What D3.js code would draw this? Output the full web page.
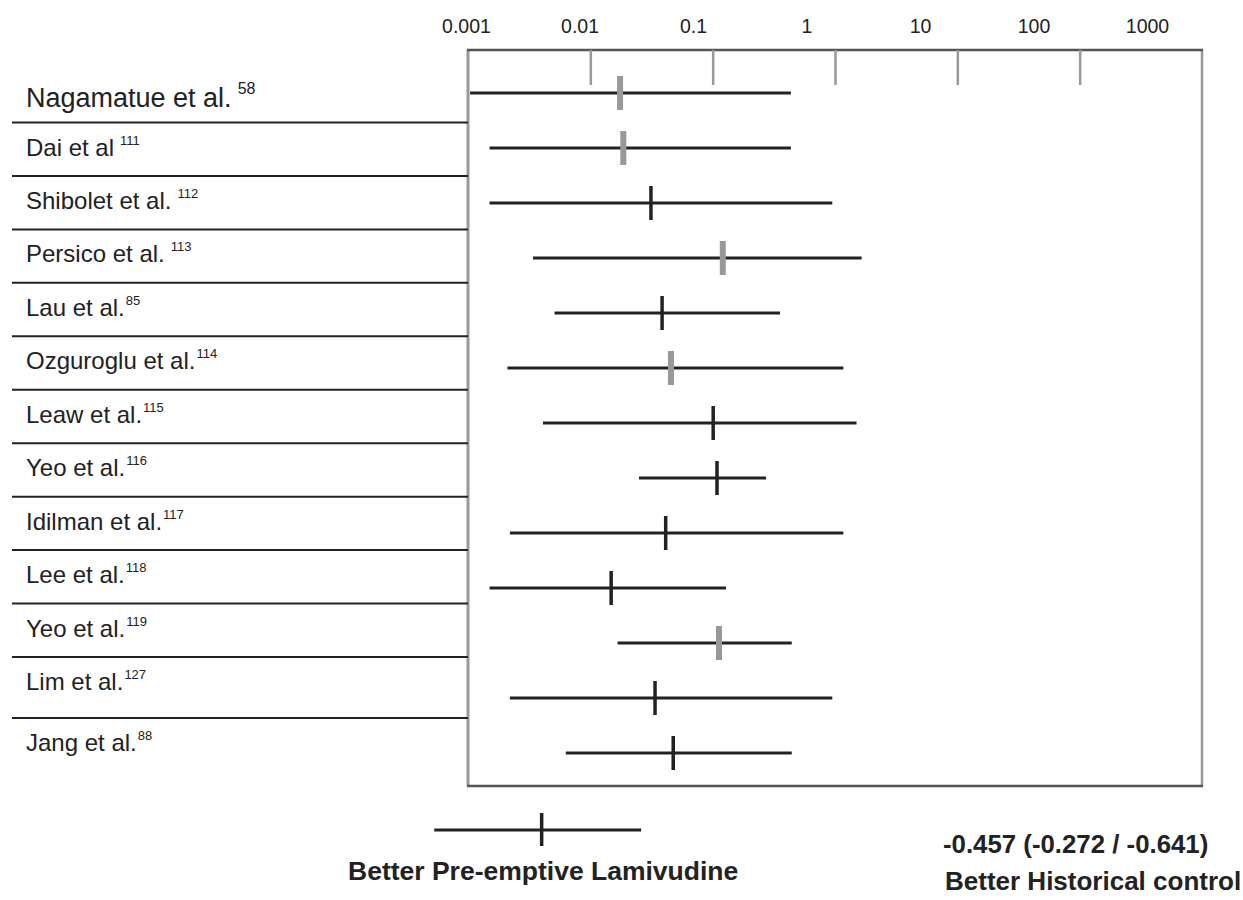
<!DOCTYPE html>
<html>
<head>
<meta charset="utf-8">
<script src="https://cdn.jsdelivr.net/npm/d3@7"></script>
<style>
  body { margin: 0; background: #fff; }
  svg { font-family: "Liberation Sans", Arial, sans-serif; }
</style>
</head>
<body>
<svg width="1243" height="900"></svg>
<script>
const svg = d3.select('svg');

// data
const studies = ['Nagamatue et al.', 'Dai et al', 'Shibolet et al.', 'Persico et al.', 'Lau et al.',
  'Ozguroglu et al.', 'Leaw et al.', 'Yeo et al.', 'Idilman et al.', 'Lee et al.',
  'Yeo et al.', 'Lim et al.', 'Jang et al.'];
const refs = ['58', '111', '112', '113', '85', '114', '115', '116', '117', '118', '119', '127', '88'];
const lower = [0.00104, 0.0015, 0.0015, 0.0034, 0.0051, 0.0021, 0.0041, 0.025, 0.0022, 0.0015, 0.0167, 0.0022, 0.0063];
const estimate = [0.0175, 0.0186, 0.0313, 0.121, 0.0386, 0.0456, 0.101, 0.1085, 0.0413, 0.0148, 0.1127, 0.0338, 0.0476];
const upper = [0.436, 0.436, 0.95, 1.65, 0.355, 1.17, 1.5, 0.273, 1.17, 0.1285, 0.443, 0.95, 0.443];
const grey = [true, true, false, true, false, true, false, false, false, false, true, false, false];

const tickValues = [0.001, 0.01, 0.1, 1, 10, 100, 1000];
const tickLabels = ['0.001', '0.01', '0.1', '1', '10', '100', '1000'];

const summary = { lower: 0.00053, estimate: 0.004, upper: 0.026 };
const summaryText = '-0.457 (-0.272 / -0.641)';
const leftLabel = 'Better Pre-emptive Lamivudine';
const rightLabel = 'Better Historical control';

// layout
const box = { left: 468, right: 1202, top: 50, bottom: 786 };

const xScale = d3.scaleLog()
  .domain([0.001, 1000])
  .range([box.left, box.right]);

// the printed tick labels sit a little off the tick marks
const labelScale = d3.scaleLog()
  .domain([0.001, 1000])
  .range([466, 1147]);

const yScale = d3.scalePoint()
  .domain(d3.range(studies.length))
  .range([93, 753]);

// separators of the label table
const sepScale = d3.scaleLinear().domain([0, 10]).range([122.5, 657]);
const separators = d3.range(11).map(i => sepScale(i)).concat([718]);
const baselines = [107].concat(separators.map(s => s + 33));

// frame
const frame = svg.append('g');
frame.append('line')
  .attr('x1', box.left).attr('x2', box.left)
  .attr('y1', box.top).attr('y2', box.bottom)
  .attr('stroke', '#999').attr('stroke-width', 3);
frame.append('line')
  .attr('x1', box.right).attr('x2', box.right)
  .attr('y1', box.top).attr('y2', box.bottom)
  .attr('stroke', '#999').attr('stroke-width', 2.5);
frame.selectAll('.hline').data([box.top, box.bottom])
  .enter().append('line')
    .attr('class', 'hline')
    .attr('x1', box.left - 1).attr('x2', box.right + 1)
    .attr('y1', d => d).attr('y2', d => d)
    .attr('stroke', '#555').attr('stroke-width', 2.5);

// tick marks hanging from the top edge
const tickAxis = d3.axisBottom(xScale)
  .tickValues(tickValues.slice(1, -1))
  .tickSize(35)
  .tickFormat('');
svg.append('g')
  .attr('transform', `translate(0,${box.top})`)
  .call(tickAxis)
  .call(g => g.select('.domain').remove())
  .call(g => g.selectAll('.tick line').attr('stroke', '#999').attr('stroke-width', 2.5));

// tick labels
const labelAxis = d3.axisTop(labelScale)
  .tickValues(tickValues)
  .tickSize(0)
  .tickPadding(0)
  .tickFormat((d, i) => tickLabels[i]);
svg.append('g')
  .attr('transform', 'translate(0,33)')
  .call(labelAxis)
  .call(g => g.select('.domain').remove())
  .call(g => g.selectAll('.tick text')
    .attr('font-family', '"Liberation Sans", Arial, sans-serif')
    .attr('font-size', 19.5)
    .attr('fill', '#222'));

// label table
svg.selectAll('.sep').data(separators)
  .enter().append('line')
    .attr('class', 'sep')
    .attr('x1', 12).attr('x2', box.left)
    .attr('y1', d => d).attr('y2', d => d)
    .attr('stroke', '#222').attr('stroke-width', 2);

const labels = svg.selectAll('.study').data(studies)
  .enter().append('text')
    .attr('class', 'study')
    .attr('x', 26)
    .attr('y', (d, i) => baselines[i])
    .attr('font-size', (d, i) => i === 0 ? 27 : 24)
    .attr('fill', '#222');
labels.append('tspan').text(d => d);
labels.append('tspan')
  .attr('dx', (d, i) => i < 4 ? 6 : 1)
  .attr('dy', (d, i) => i === 0 ? -13 : -11)
  .attr('font-size', (d, i) => i === 0 ? 16 : 13)
  .text((d, i) => refs[i]);

// confidence intervals
const rows = svg.append('g').selectAll('g').data(studies)
  .enter().append('g');
rows.append('line')
  .attr('x1', (d, i) => xScale(lower[i]))
  .attr('x2', (d, i) => xScale(upper[i]))
  .attr('y1', (d, i) => yScale(i))
  .attr('y2', (d, i) => yScale(i))
  .attr('stroke', '#222').attr('stroke-width', 3);
rows.append('line')
  .attr('x1', (d, i) => xScale(estimate[i]))
  .attr('x2', (d, i) => xScale(estimate[i]))
  .attr('y1', (d, i) => yScale(i) - 17)
  .attr('y2', (d, i) => yScale(i) + 17)
  .attr('stroke', (d, i) => grey[i] ? '#999' : '#222')
  .attr('stroke-width', (d, i) => grey[i] ? 6 : 3.5);

// summary interval below the box
const sumY = 830;
svg.append('line')
  .attr('x1', xScale(summary.lower)).attr('x2', xScale(summary.upper))
  .attr('y1', sumY).attr('y2', sumY)
  .attr('stroke', '#222').attr('stroke-width', 3);
svg.append('line')
  .attr('x1', xScale(summary.estimate)).attr('x2', xScale(summary.estimate))
  .attr('y1', sumY - 17).attr('y2', sumY + 16)
  .attr('stroke', '#222').attr('stroke-width', 3.5);

svg.append('text')
  .attr('x', 348).attr('y', 880)
  .attr('font-size', 26.5).attr('font-weight', 'bold').attr('fill', '#222')
  .text(leftLabel);
svg.append('text')
  .attr('x', 943).attr('y', 853)
  .attr('font-size', 25.8).attr('font-weight', 'bold').attr('fill', '#222')
  .text(summaryText);
svg.append('text')
  .attr('x', 945).attr('y', 890)
  .attr('font-size', 26).attr('font-weight', 'bold').attr('fill', '#222')
  .text(rightLabel);
</script>
</body>
</html>
